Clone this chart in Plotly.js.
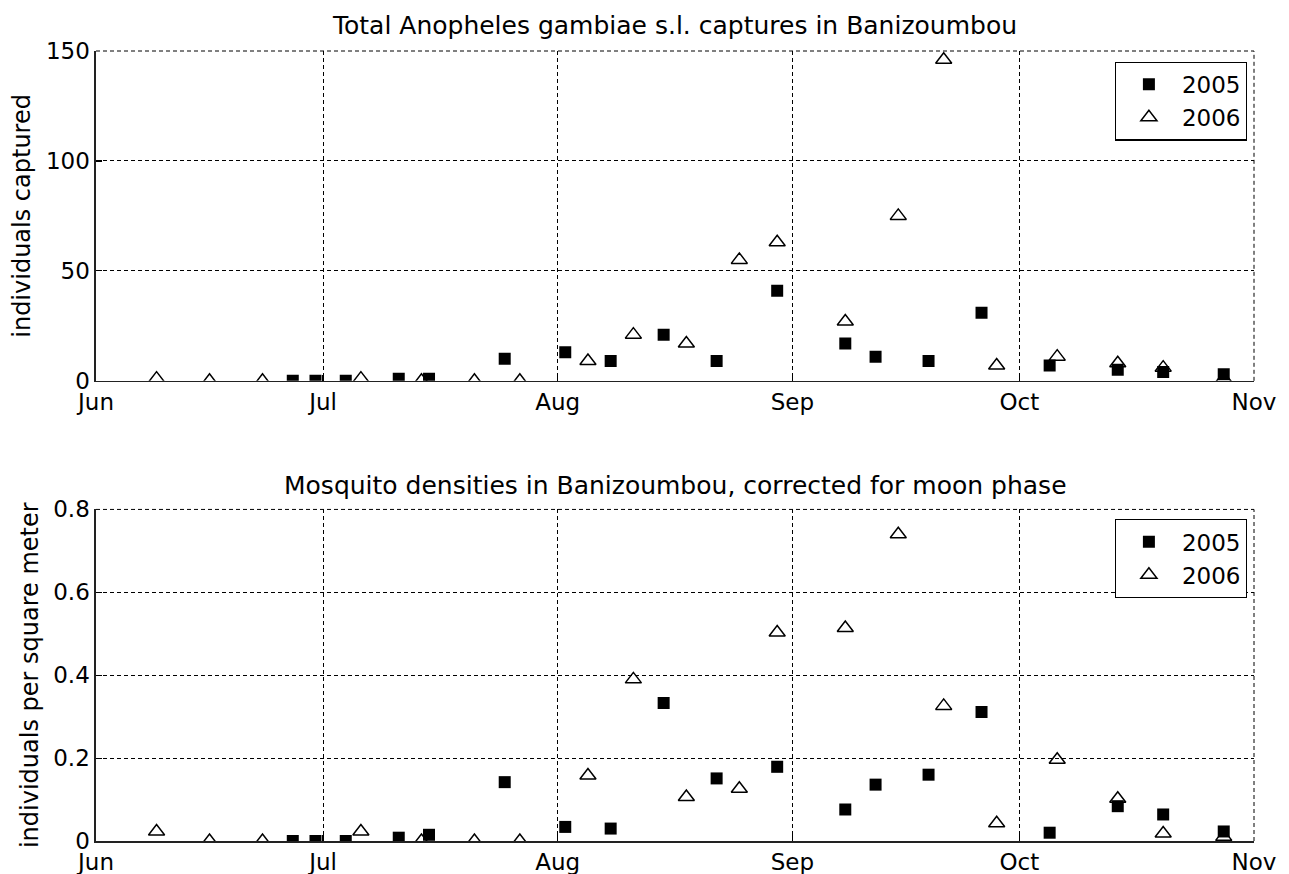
<!DOCTYPE html>
<html>
<head>
<meta charset="utf-8">
<script src="https://cdn.plot.ly/plotly-3.0.1.min.js"></script>
<style>html,body{margin:0;padding:0;background:#fff;}#chart{width:1289px;height:874px;}</style>
</head>
<body>
<div id="chart"></div>
<script>
// Season axis (month-day); plotted on a common reference year
var seasonYear = '2005';
var monthTicks = ['06-01','07-01','08-01','09-01','10-01','11-01'];
var monthLabels = ['Jun','Jul','Aug','Sep','Oct','Nov'];

// 2005 sampling dates and values
var dates2005 = ['06-27','06-30','07-04','07-11','07-15','07-25','08-02','08-08','08-15','08-22','08-30','09-08','09-12','09-19','09-26','10-05','10-14','10-20','10-28'];
var captures2005 = [0,0,0,1,1,10,13,9,21,9,41,17,11,9,31,7,5,4,3];
var density2005 = [0,0,0,0.008,0.015,0.142,0.034,0.030,0.333,0.151,0.179,0.076,0.136,0.160,0.311,0.020,0.084,0.064,0.023];

// 2006 sampling dates and values
var dates2006 = ['06-09','06-16','06-23','07-06','07-14','07-21','07-27','08-05','08-11','08-18','08-25','08-30','09-08','09-15','09-21','09-28','10-06','10-14','10-20','10-28'];
var captures2006 = [1,0,0,1,0,0,0,9,21,17,55,63,27,75,146,7,11,8,6,1];
var density2006 = [0.023,0,0,0.023,0,0,0,0.158,0.390,0.106,0.126,0.503,0.514,0.740,0.326,0.043,0.196,0.102,0.018,0.010];

var seriesNames = ['2005','2006'];
var topTitle = 'Total Anopheles gambiae s.l. captures in Banizoumbou';
var bottomTitle = 'Mosquito densities in Banizoumbou, corrected for moon phase';
var topYLabel = 'individuals captured';
var bottomYLabel = 'individuals per square meter';

function toDate(md){ return seasonYear + '-' + md; }

var FONT = 'DejaVu Sans, Liberation Sans, Arial, sans-serif';
var sqMarker = {symbol:'square', size:12, color:'#000', line:{width:0}};
var triMarker = {symbol:'triangle-up-open', size:14, color:'#000', line:{width:1.5, color:'#000'}};

var traces = [
  {x: dates2005.map(toDate), y: captures2005, name: seriesNames[0], type:'scatter', mode:'markers', marker: sqMarker, xaxis:'x', yaxis:'y', legend:'legend'},
  {x: dates2006.map(toDate), y: captures2006, name: seriesNames[1], type:'scatter', mode:'markers', marker: triMarker, xaxis:'x', yaxis:'y', legend:'legend'},
  {x: dates2005.map(toDate), y: density2005, name: seriesNames[0], type:'scatter', mode:'markers', marker: sqMarker, xaxis:'x2', yaxis:'y2', legend:'legend2'},
  {x: dates2006.map(toDate), y: density2006, name: seriesNames[1], type:'scatter', mode:'markers', marker: triMarker, xaxis:'x2', yaxis:'y2', legend:'legend2'}
];

var DASH = '4px,3px';
var gridStyle = {showgrid:true, gridcolor:'#000', gridwidth:1, griddash:DASH};

function xAxis(anchor){
  return Object.assign({
    type:'date', anchor: anchor,
    range:[toDate(monthTicks[0]), toDate(monthTicks[monthTicks.length-1])],
    tickmode:'array', tickvals: monthTicks.map(toDate), ticktext: monthLabels,
    ticks:'inside', ticklen:6, tickcolor:'#000', tickwidth:1.2,
    showline:true, linecolor:'#222', linewidth:1.6, mirror:false,
    zeroline:false, tickfont:{family:FONT, size:23, color:'#000'},
    ticklabelstandoff: 0
  }, gridStyle);
}
function yAxis(anchor, domain, range, dtick, title){
  return Object.assign({
    anchor: anchor, domain: domain, range: range, dtick: dtick, tick0: 0,
    ticks:'inside', ticklen:6, tickcolor:'#000', tickwidth:1.2,
    showline:true, linecolor:'#222', linewidth:1.6, zeroline:false,
    tickfont:{family:FONT, size:23, color:'#000'},
    title:{text:title, font:{family:FONT, size:24, color:'#000'}, standoff:8}
  }, gridStyle);
}

var legendStyle = {
  xref:'paper', yref:'paper', x:0.9937, xanchor:'right', yanchor:'top',
  bgcolor:'#fff', bordercolor:'#000', borderwidth:1.2,
  font:{family:FONT, size:23, color:'#000'}, itemwidth:56, tracegroupgap:0
};

// dashed frame edges (top and right) matching the grid style
function edgeShapes(xr, yr){
  var line = {color:'#000', width:1, dash:DASH};
  return [
    {type:'line', xref:xr+' domain', yref:yr+' domain', x0:0, x1:1, y0:1, y1:1, line:line, layer:'below'},
    {type:'line', xref:xr+' domain', yref:yr+' domain', x0:1, x1:1, y0:0, y1:1, line:line, layer:'below'}
  ];
}

var layout = {
  width:1289, height:874,
  margin:{l:96, r:35, t:51, b:33},
  paper_bgcolor:'#fff', plot_bgcolor:'#fff',
  font:{family:FONT, color:'#000'},
  showlegend:true,
  title:{text: topTitle, font:{family:FONT, size:25, color:'#000'}, x:0.5, xref:'paper', y:1-25/874, yref:'container', yanchor:'middle'},
  xaxis: xAxis('y'),
  yaxis: yAxis('x', [0.5825, 1], [0, 150], 50, topYLabel),
  xaxis2: xAxis('y2'),
  yaxis2: yAxis('x2', [0, 0.4197], [0, 0.8], 0.2, bottomYLabel),
  legend: Object.assign({y:0.9865}, legendStyle),
  legend2: Object.assign({y:0.4074}, legendStyle),
  shapes: edgeShapes('x','y').concat(edgeShapes('x2','y2')),
  annotations:[
    {text: bottomTitle, xref:'paper', yref:'paper', x:0.5, y:0.4504, xanchor:'center', yanchor:'middle', showarrow:false, font:{family:FONT, size:25, color:'#000'}}
  ]
};

Plotly.newPlot('chart', traces, layout, {displayModeBar:false, staticPlot:true});
</script>
</body>
</html>
